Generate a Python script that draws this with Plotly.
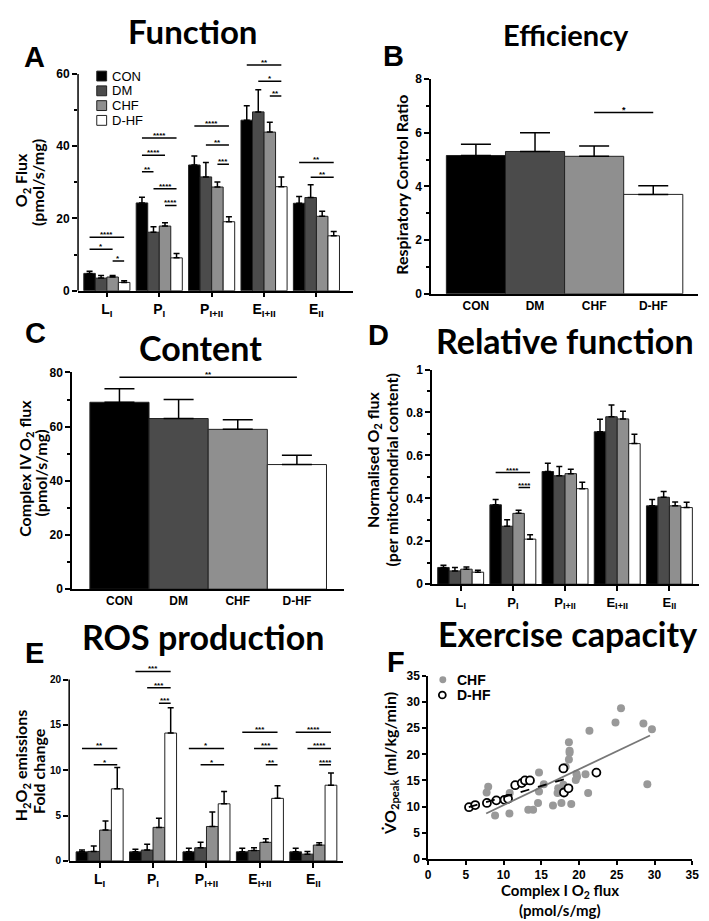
import plotly.graph_objects as go

W, H = 709, 921

# ---------------- data ----------------
groups = ["CON", "DM", "CHF", "D-HF"]
states = ["L<sub>I</sub>", "P<sub>I</sub>", "P<sub>I+II</sub>", "E<sub>I+II</sub>", "E<sub>II</sub>"]

# Panel A: O2 flux (pmol/s/mg)
A_con = [4.8, 24.3, 34.8, 47.2, 24.2]
A_dm = [3.5, 16.2, 31.5, 49.5, 25.8]
A_chf = [3.8, 17.9, 28.7, 43.9, 20.6]
A_dhf = [2.3, 9.1, 19.1, 28.8, 15.2]
A_con_sem = [0.6, 1.6, 2.5, 4.0, 1.9]
A_dm_sem = [0.7, 1.5, 4.0, 6.1, 3.5]
A_chf_sem = [0.4, 0.9, 1.4, 2.7, 1.4]
A_dhf_sem = [0.5, 1.2, 1.4, 2.7, 1.2]
A_sig_group = [0, 0, 0, 1, 1, 1, 1, 1, 2, 2, 2, 3, 3, 3, 4, 4]
A_sig_from = [0, 0, 2, 0, 0, 0, 1, 2, 0, 1, 2, 0, 1, 2, 0, 1]
A_sig_to = [3, 2, 3, 3, 2, 1, 3, 3, 3, 3, 3, 3, 3, 3, 3, 3]
A_sig_y = [14.8, 11.5, 8.2, 42.3, 37.5, 32.9, 28.2, 23.6, 45.6, 40.3, 35.0, 62.5, 58.0, 53.9, 35.5, 31.4]
A_sig_txt = ["****", "*", "*", "****", "****", "**", "****", "****", "****", "**", "***", "**", "*", "**", "**", "**"]

# Panel B: respiratory control ratio
B_vals = [5.15, 5.3, 5.12, 3.7]
B_sem = [0.42, 0.7, 0.38, 0.32]
B_sig_from = [2]
B_sig_to = [3]
B_sig_y = [6.75]
B_sig_txt = ["*"]

# Panel C: complex IV O2 flux
C_vals = [69, 63, 59, 46]
C_sem = [5.0, 7.0, 3.5, 3.4]
C_sig_from = [0]
C_sig_to = [3]
C_sig_y = [78.2]
C_sig_txt = ["**"]

# Panel D: normalised O2 flux
D_con = [0.078, 0.37, 0.525, 0.71, 0.365]
D_dm = [0.062, 0.27, 0.505, 0.78, 0.405]
D_chf = [0.07, 0.33, 0.515, 0.77, 0.365]
D_dhf = [0.056, 0.21, 0.445, 0.655, 0.357]
D_con_sem = [0.010, 0.025, 0.038, 0.058, 0.030]
D_dm_sem = [0.016, 0.030, 0.043, 0.055, 0.027]
D_chf_sem = [0.010, 0.015, 0.020, 0.036, 0.018]
D_dhf_sem = [0.009, 0.020, 0.030, 0.043, 0.025]
D_sig_group = [1, 1]
D_sig_from = [0, 2]
D_sig_to = [3, 3]
D_sig_y = [0.52, 0.45]
D_sig_txt = ["****", "****"]

# Panel E: H2O2 emissions fold change
E_con = [1.0, 1.0, 1.0, 1.0, 1.0]
E_dm = [1.05, 1.2, 1.45, 1.15, 0.75]
E_chf = [3.4, 3.7, 3.8, 2.05, 1.75]
E_dhf = [7.95, 14.1, 6.3, 6.9, 8.35]
E_con_sem = [0.2, 0.3, 0.4, 0.4, 0.4]
E_dm_sem = [0.6, 0.65, 0.6, 0.3, 0.3]
E_chf_sem = [1.0, 1.0, 1.6, 0.4, 0.25]
E_dhf_sem = [2.35, 2.8, 1.35, 1.4, 1.35]
E_sig_group = [0, 0, 1, 1, 1, 2, 2, 3, 3, 3, 4, 4, 4]
E_sig_from = [0, 1, 0, 1, 2, 0, 1, 0, 1, 2, 0, 1, 2]
E_sig_to = [3, 3, 3, 3, 3, 3, 3, 3, 3, 3, 3, 3, 3]
E_sig_y = [12.4, 10.6, 20.9, 19.1, 17.4, 12.4, 10.6, 14.2, 12.4, 10.6, 14.2, 12.4, 10.6]
E_sig_txt = ["**", "*", "***", "***", "***", "*", "*", "***", "***", "**", "****", "****", "****"]

# Panel F: exercise capacity vs complex I flux
F_chf_x = [7.76, 7.97, 8.88, 10.78, 10.82, 13.28, 13.92, 14.7, 14.7, 14.57, 15.34, 16.55, 17.16, 17.24,
           17.67, 17.93, 18.23, 18.66, 18.75, 18.75, 18.66, 18.97, 19.66, 19.74, 19.57, 20.86, 21.38,
           21.21, 24.83, 25.56, 28.53, 29.66, 29.05]
F_chf_y = [12.7, 13.8, 8.3, 8.7, 12.6, 9.4, 9.4, 16.5, 12.9, 10.7, 14.3, 10.2, 12.6, 13.5,
           10.7, 14.2, 17.6, 22.3, 20.7, 20.3, 19.0, 10.5, 16.3, 15.7, 15.1, 16.2, 24.5,
           12.6, 26.1, 28.8, 25.9, 24.8, 14.3]
F_dhf_x = [5.43, 6.25, 7.8, 9.05, 10.13, 10.6, 11.55, 12.41, 12.84, 13.5, 17.93, 18.0, 18.6, 22.3]
F_dhf_y = [9.9, 10.3, 10.7, 11.2, 11.3, 11.5, 14.1, 14.5, 15.0, 15.0, 17.3, 12.7, 13.5, 16.5]
F_chf_fit_x = [7.7, 29.4]
F_chf_fit_y = [8.7, 23.6]
F_dhf_fit_x = [5.4, 18.7]
F_dhf_fit_y = [9.9, 15.5]
F_groups = ["CHF", "D-HF"]

# ---------------- style ----------------
colors = ["#000000", "#4b4b4b", "#8f8f8f", "#ffffff"]
TFONT = "Lato"
AFONT = "Liberation Sans"
BARGAP = 0.12


def px_x(p):
    return p / W


def px_y(p):
    return 1 - p / H


fig = go.Figure()


def add_grouped(vals, sems, xa, ya, cap):
    for i, g in enumerate(groups):
        fig.add_trace(go.Bar(
            x=list(range(len(vals[i]))), y=vals[i], name=g,
            marker=dict(color=colors[i], line=dict(color="#222222", width=1)),
            error_y=dict(type="data", symmetric=False, array=sems[i],
                         arrayminus=[0] * len(sems[i]), color="black",
                         thickness=1.5, width=cap),
            xaxis=xa, yaxis=ya, showlegend=False,
        ))


def bar_center(group, idx):
    w = (1 - BARGAP) / 4
    return group - (1 - BARGAP) / 2 + w * (idx + 0.5)


annotations = []
shapes = []


def add_sig(xr, yr, gs, fr, to, ys, txts, grouped=True, size=8):
    for k in range(len(ys)):
        if grouped:
            x0 = bar_center(gs[k], fr[k])
            x1 = bar_center(gs[k], to[k])
        else:
            x0, x1 = fr[k], to[k]
        shapes.append(dict(type="line", xref=xr, yref=yr, x0=x0, x1=x1, y0=ys[k], y1=ys[k],
                           line=dict(color="black", width=1.5)))
        annotations.append(dict(xref=xr, yref=yr, x=(x0 + x1) / 2, y=ys[k], text=txts[k],
                                showarrow=False, yanchor="bottom", yshift=-4,
                                font=dict(family=AFONT, size=size, color="black", weight="bold")))


# Panel A
add_grouped([A_con, A_dm, A_chf, A_dhf], [A_con_sem, A_dm_sem, A_chf_sem, A_dhf_sem], "x", "y", 3)
add_sig("x", "y", A_sig_group, A_sig_from, A_sig_to, A_sig_y, A_sig_txt)

# Panel B
fig.add_trace(go.Bar(x=[0, 1, 2, 3], y=B_vals, width=1,
                     marker=dict(color=colors, line=dict(color="#222222", width=1)),
                     error_y=dict(type="data", symmetric=False, array=B_sem, arrayminus=[0] * 4,
                                  color="black", thickness=1.5, width=15),
                     xaxis="x2", yaxis="y2", showlegend=False))
add_sig("x2", "y2", None, B_sig_from, B_sig_to, B_sig_y, B_sig_txt, grouped=False, size=9)

# Panel C
fig.add_trace(go.Bar(x=[0, 1, 2, 3], y=C_vals, width=1,
                     marker=dict(color=colors, line=dict(color="#222222", width=1)),
                     error_y=dict(type="data", symmetric=False, array=C_sem, arrayminus=[0] * 4,
                                  color="black", thickness=1.5, width=15),
                     xaxis="x3", yaxis="y3", showlegend=False))
add_sig("x3", "y3", None, C_sig_from, C_sig_to, C_sig_y, C_sig_txt, grouped=False)

# Panel D
add_grouped([D_con, D_dm, D_chf, D_dhf], [D_con_sem, D_dm_sem, D_chf_sem, D_dhf_sem], "x4", "y4", 3)
add_sig("x4", "y4", D_sig_group, D_sig_from, D_sig_to, D_sig_y, D_sig_txt)

# Panel E
add_grouped([E_con, E_dm, E_chf, E_dhf], [E_con_sem, E_dm_sem, E_chf_sem, E_dhf_sem], "x5", "y5", 3)
add_sig("x5", "y5", E_sig_group, E_sig_from, E_sig_to, E_sig_y, E_sig_txt)

# Panel F
chf_marker = dict(color="#999999", size=8, line=dict(width=0))
dhf_marker = dict(color="white", size=8, line=dict(color="black", width=1.8))
fig.add_trace(go.Scatter(x=F_chf_x, y=F_chf_y, mode="markers", name=F_groups[0],
                         marker=chf_marker, xaxis="x6", yaxis="y6", showlegend=False))
fig.add_trace(go.Scatter(x=F_dhf_x, y=F_dhf_y, mode="markers", name=F_groups[1],
                         marker=dhf_marker, xaxis="x6", yaxis="y6", showlegend=False))
fig.add_trace(go.Scatter(x=F_chf_fit_x, y=F_chf_fit_y, mode="lines",
                         line=dict(color="#777777", width=1.8), showlegend=False,
                         xaxis="x6", yaxis="y6"))
fig.add_trace(go.Scatter(x=F_dhf_fit_x, y=F_dhf_fit_y, mode="lines",
                         line=dict(color="black", width=1.8, dash="dash"), showlegend=False,
                         xaxis="x6", yaxis="y6"))

# ---------------- axes ----------------
tickf = dict(family=AFONT, size=12, color="black", weight="bold")
catf = dict(family=AFONT, size=14, color="black", weight="bold")


def yax(domain, rng, tickvals, minor, line=True, tf=tickf, anchor="x", ticklen=5):
    d = dict(domain=domain, range=rng, tickvals=tickvals, ticks="outside", ticklen=ticklen,
             tickwidth=1.5, tickcolor="black", showline=line, linewidth=1.5, linecolor="black",
             showgrid=False, zeroline=False, tickfont=tf, anchor=anchor, fixedrange=True)
    if minor:
        d["minor"] = dict(tickvals=minor, ticks="outside", ticklen=3, tickwidth=1.5, tickcolor="black")
    return d


def xax(domain, rng, tickvals, ticktext, ticks, tf, anchor, ticklen=5):
    d = dict(domain=domain, range=rng, tickvals=tickvals,
             ticks=ticks, ticklen=ticklen, tickwidth=1.5, tickcolor="black", showline=True,
             linewidth=1.5, linecolor="black", showgrid=False, zeroline=False,
             tickfont=tf, anchor=anchor, fixedrange=True)
    if ticktext is not None:
        d["ticktext"] = ticktext
    return d


lay = dict(
    width=W, height=H, margin=dict(l=0, r=0, t=0, b=0),
    paper_bgcolor="white", plot_bgcolor="rgba(0,0,0,0)", showlegend=False,
    barmode="group", bargap=BARGAP, bargroupgap=0,
    xaxis=xax([px_x(68), px_x(347)], [-0.55, 4.70], list(range(5)),
              ["<b>%s</b>" % s for s in states], "outside", catf, "y"),
    yaxis=yax([px_y(280), px_y(47)], [0, 63.5], [0, 20, 40, 60], [10, 30, 50], line=False, anchor="x"),
    xaxis2=xax([px_x(426), px_x(697)], [-0.76, 3.76], [0, 1, 2, 3], groups, "",
               dict(family=AFONT, size=12, color="black", weight="bold"), "y2"),
    yaxis2=yax([px_y(283), px_y(65)], [0, 8], [0, 2, 4, 6, 8], [1, 3, 5, 7], anchor="x2"),
    xaxis3=xax([px_x(62), px_x(338)], [-0.8, 3.8], [0, 1, 2, 3], groups, "",
               dict(family=AFONT, size=12, color="black", weight="bold"), "y3"),
    yaxis3=yax([px_y(583), px_y(363)], [0, 80], [0, 20, 40, 60, 80], [10, 30, 50, 70], anchor="x3"),
    xaxis4=xax([px_x(427), px_x(698)], [-0.55, 4.57], list(range(5)),
               ["<b>%s</b>" % s for s in states], "outside",
               dict(family=AFONT, size=13, color="black", weight="bold"), "y4"),
    yaxis4=yax([px_y(578), px_y(360)], [0, 1], [0, 0.2, 0.4, 0.6, 0.8, 1.0],
               [0.1, 0.3, 0.5, 0.7, 0.9], anchor="x4"),
    xaxis5=xax([px_x(59), px_x(337)], [-0.57, 4.56], list(range(5)),
               ["<b>%s</b>" % s for s in states], "outside", catf, "y5"),
    yaxis5=yax([px_y(859), px_y(661)], [0, 21.5], [0, 5, 10, 15, 20], None, line=False,
               tf=dict(family=AFONT, size=10, color="black", weight="bold"), anchor="x5"),
    xaxis6=xax([px_x(423), px_x(691)], [0, 35], list(range(0, 36, 5)), None, "outside", tickf, "y6",
               ticklen=4),
    yaxis6=yax([px_y(857), px_y(671)], [0, 35], list(range(0, 36, 5)), None, anchor="x6", ticklen=4),
)

# manual y axis lines for A and E (stop at the top tick)
shapes.append(dict(type="line", xref="x domain", yref="y", x0=0, x1=0, y0=0, y1=60,
                   line=dict(color="black", width=1.5)))
shapes.append(dict(type="line", xref="x5 domain", yref="y5", x0=0, x1=0, y0=0, y1=20,
                   line=dict(color="black", width=1.5)))


def ann(text, x, y, size, family=TFONT, angle=0, xanchor="center", bold=True):
    annotations.append(dict(xref="paper", yref="paper", x=px_x(x), y=px_y(y),
                            text=("<b>%s</b>" % text) if bold else text,
                            showarrow=False, xanchor=xanchor, yanchor="middle", textangle=angle,
                            font=dict(family=family, size=size, color="black")))


# legend for panel A (group swatches)
for i, g in enumerate(groups):
    yc = 62 + 15 * i
    shapes.append(dict(type="rect", xref="paper", yref="paper",
                       x0=px_x(87), x1=px_x(97), y0=px_y(yc - 5), y1=px_y(yc + 5),
                       fillcolor=colors[i], line=dict(color="#222222", width=1)))
    ann(g, 100, yc, 13, AFONT, xanchor="left", bold=False)

# legend for panel F
shapes.append(dict(type="circle", xref="paper", yref="paper",
                   x0=px_x(434.5), x1=px_x(441.5), y0=px_y(671.5), y1=px_y(678.5),
                   fillcolor="#999999", line=dict(width=0)))
shapes.append(dict(type="circle", xref="paper", yref="paper",
                   x0=px_x(434), x1=px_x(441), y0=px_y(687), y1=px_y(694),
                   fillcolor="white", line=dict(color="black", width=1.8)))
ann(F_groups[0], 450, 675, 14, AFONT, xanchor="left")
ann(F_groups[1], 450, 690, 14, AFONT, xanchor="left")

# panel titles
ann("Function", 184, 16, 33)
ann("Efficiency", 563, 20, 29)
ann("Content", 192, 338, 34)
ann("Relative function", 562, 331, 34)
ann("ROS production", 195, 631, 34)
ann("Exercise capacity", 564, 628, 34)
# panel letters
ann("A", 24, 43, 29, AFONT)
ann("B", 388, 42, 29, AFONT)
ann("C", 25, 323, 29, AFONT)
ann("D", 373, 325, 29, AFONT)
ann("E", 24, 648, 29, AFONT)
ann("F", 391, 657, 29, AFONT)
# axis titles
ann("O<sub>2</sub> Flux", 11, 168, 16, angle=-90)
ann("(pmol/s/mg)", 27, 170, 16, angle=-90)
ann("Respiratory Control Ratio", 396, 172, 16, angle=-90)
ann("Complex IV O<sub>2</sub> flux", 14, 460, 16, angle=-90)
ann("(pmol/s/mg)", 30, 465, 16, angle=-90)
ann("Normalised O<sub>2</sub> flux", 367, 452, 16, angle=-90)
ann("(per mitochondrial content)", 386, 462, 16, angle=-90)
ann("H<sub>2</sub>O<sub>2</sub> emissions", 11, 762, 16, angle=-90)
ann("Fold change", 28, 768, 16, angle=-90)
ann("V\u0307O<sub>2peak</sub> (ml/kg/min)", 385, 760, 16, angle=-90)
ann("Complex I O<sub>2</sub> flux", 557, 890, 15)
ann("(pmol/s/mg)", 557, 909, 15)

lay["annotations"] = annotations
lay["shapes"] = shapes
fig.update_layout(**lay)

fig.write_html("out.html")
